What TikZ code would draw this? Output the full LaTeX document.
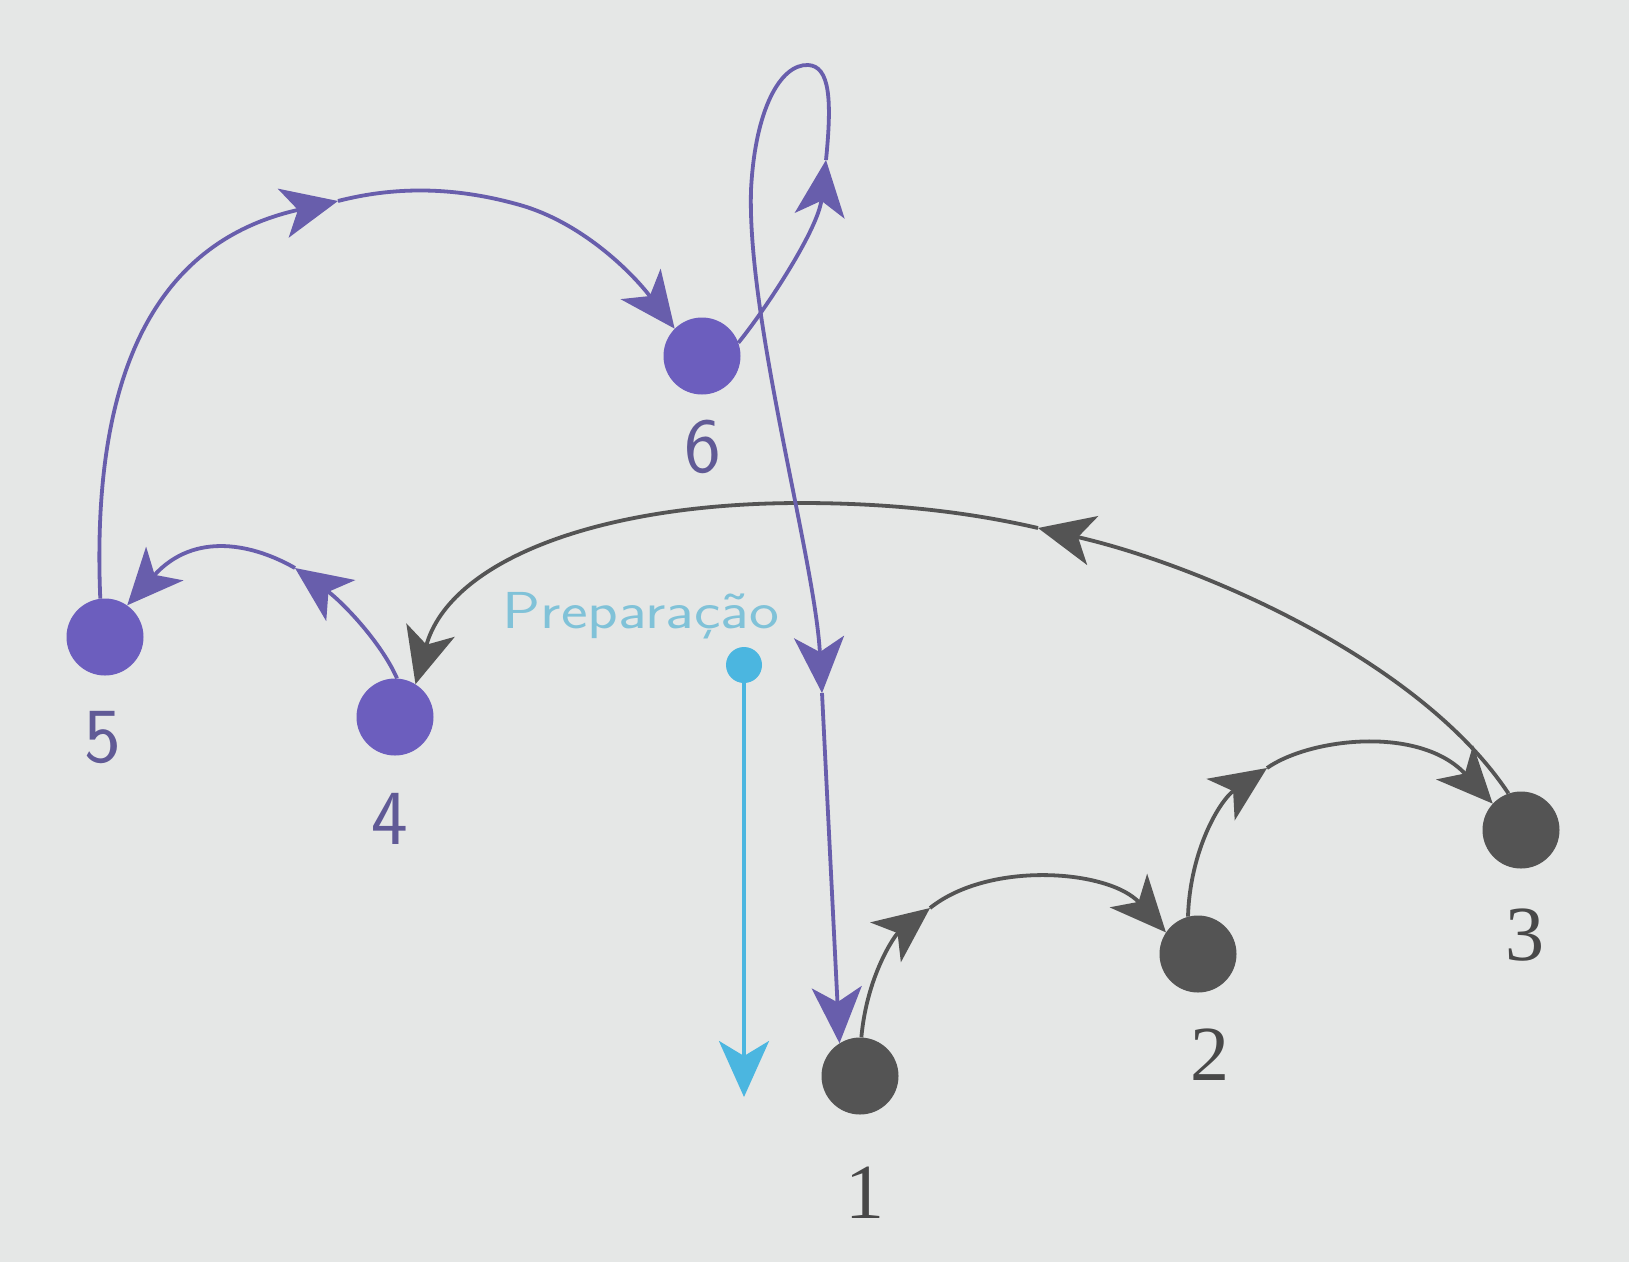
\documentclass[tikz,border=0pt]{standalone}
\usepackage{fontspec}
\newfontfamily\numserif{Liberation Serif}
\usetikzlibrary{arrows.meta}
\definecolor{bg}{RGB}{229,231,230}
\definecolor{purp}{RGB}{108,94,190}
\definecolor{purpline}{RGB}{104,94,172}
\definecolor{dgray}{RGB}{84,84,84}
\definecolor{cyanc}{RGB}{75,182,224}
\definecolor{cyantxt}{RGB}{128,194,216}
\definecolor{numg}{RGB}{72,72,72}
\definecolor{nump}{RGB}{96,90,150}
\begin{document}
\begin{tikzpicture}[x=1pt,y=-1pt,
  barb/.tip={Stealth[length=56pt,width=50pt,inset=15pt]},
  dot/.style={circle, inner sep=0pt, minimum size=77pt},
  pdot/.style={dot, fill=purp},
  gdot/.style={dot, fill=dgray},
  pcon/.style={draw=purpline, line width=3.8pt, -{barb}},
  gcon/.style={draw=dgray, line width=3.8pt, -{barb}},
  ccon/.style={draw=cyanc, line width=3.8pt, -{barb}},
  glab/.style={font=\numserif\fontsize{78}{78}\selectfont, inner sep=0pt, text=numg},
  plab/.style={font=\sffamily\fontsize{78}{78}\selectfont, inner sep=0pt, text=nump},
  preptext/.style={font=\sffamily\fontsize{52}{52}\selectfont, text=cyantxt, inner sep=0pt}
]
\fill[bg] (0,0) rectangle (1629,1262);
\useasboundingbox (0,0) rectangle (1629,1262);

% nodes
\node[gdot] (n1) at (860,1076) {};
\node[gdot] (n2) at (1198,954) {};
\node[gdot] (n3) at (1521,830) {};
\node[pdot] (n4) at (395,717) {};
\node[pdot] (n5) at (105,637) {};
\node[pdot] (n6) at (702,356) {};
\node[circle, fill=cyanc, inner sep=0pt, minimum size=36pt] (prep) at (744,665) {};
\node[preptext, anchor=base] (preplabel) at (641,628) {\scalebox{1.22}[1]{Preparação}};

% labels
\node[glab] (l1) at (865,1193) {1};
\node[glab] (l2) at (1210,1055) {2};
\node[glab] (l3) at (1525,935) {3};
\node[plab] (l4) at (390,819) {4};
\node[plab] (l5) at (103,738) {5};
\node[plab] (l6) at (703,447) {6};

% mid-arrow coordinates
\coordinate (a12) at (930,908);
\coordinate (a23) at (1267,768);
\coordinate (a34) at (1038,528);
\coordinate (a45) at (295,568);
\coordinate (a56) at (338,201);
\coordinate (aL1) at (826,160);
\coordinate (aL2) at (822,693);
\coordinate (cend) at (744,1097);

% 1 -> 2
\draw[gcon] (n1.88) .. controls (867,975) and (895,935) .. (a12);
\draw[gcon] (a12) .. controls (990,860) and (1110,870) .. (n2.146);
% 2 -> 3
\draw[gcon] (n2.105) .. controls (1190,850) and (1220,800) .. (a23);
\draw[gcon] (a23) .. controls (1310,738) and (1420,725) .. (n3.137);
% 3 -> 4
\draw[gcon] (n3.109) .. controls (1420,660) and (1200,565) .. (a34);
\draw[gcon] (a34) .. controls (960,510) and (880,503) .. (801,503)
                  .. controls (600,503) and (450,560) .. (n4.58);
% 4 -> 5
\draw[pcon] (n4.87) .. controls (380,640) and (340,600) .. (a45);
\draw[pcon] (a45) .. controls (255,545) and (195,530) .. (n5.55);
% 5 -> 6
\draw[pcon] (n5.97) .. controls (89,330) and (185,235) .. (a56);
\draw[pcon] (a56) .. controls (400,185) and (460,188) .. (520,205)
                  .. controls (580,222) and (630,270) .. (n6.135);
% 6 -> loop -> 1
\draw[pcon] (n6.20) .. controls (765,310) and (818,230) .. (aL1);
\draw[pcon] (aL1) .. controls (832,100) and (830,66) .. (808,65)
                  .. controls (780,64) and (755,110) .. (751,190)
                  .. controls (747,320) and (815,560) .. (aL2);
\draw[pcon] (aL2) -- (n1.122);
% preparation
\draw[ccon] (prep) -- (cend);
\end{tikzpicture}
\end{document}
